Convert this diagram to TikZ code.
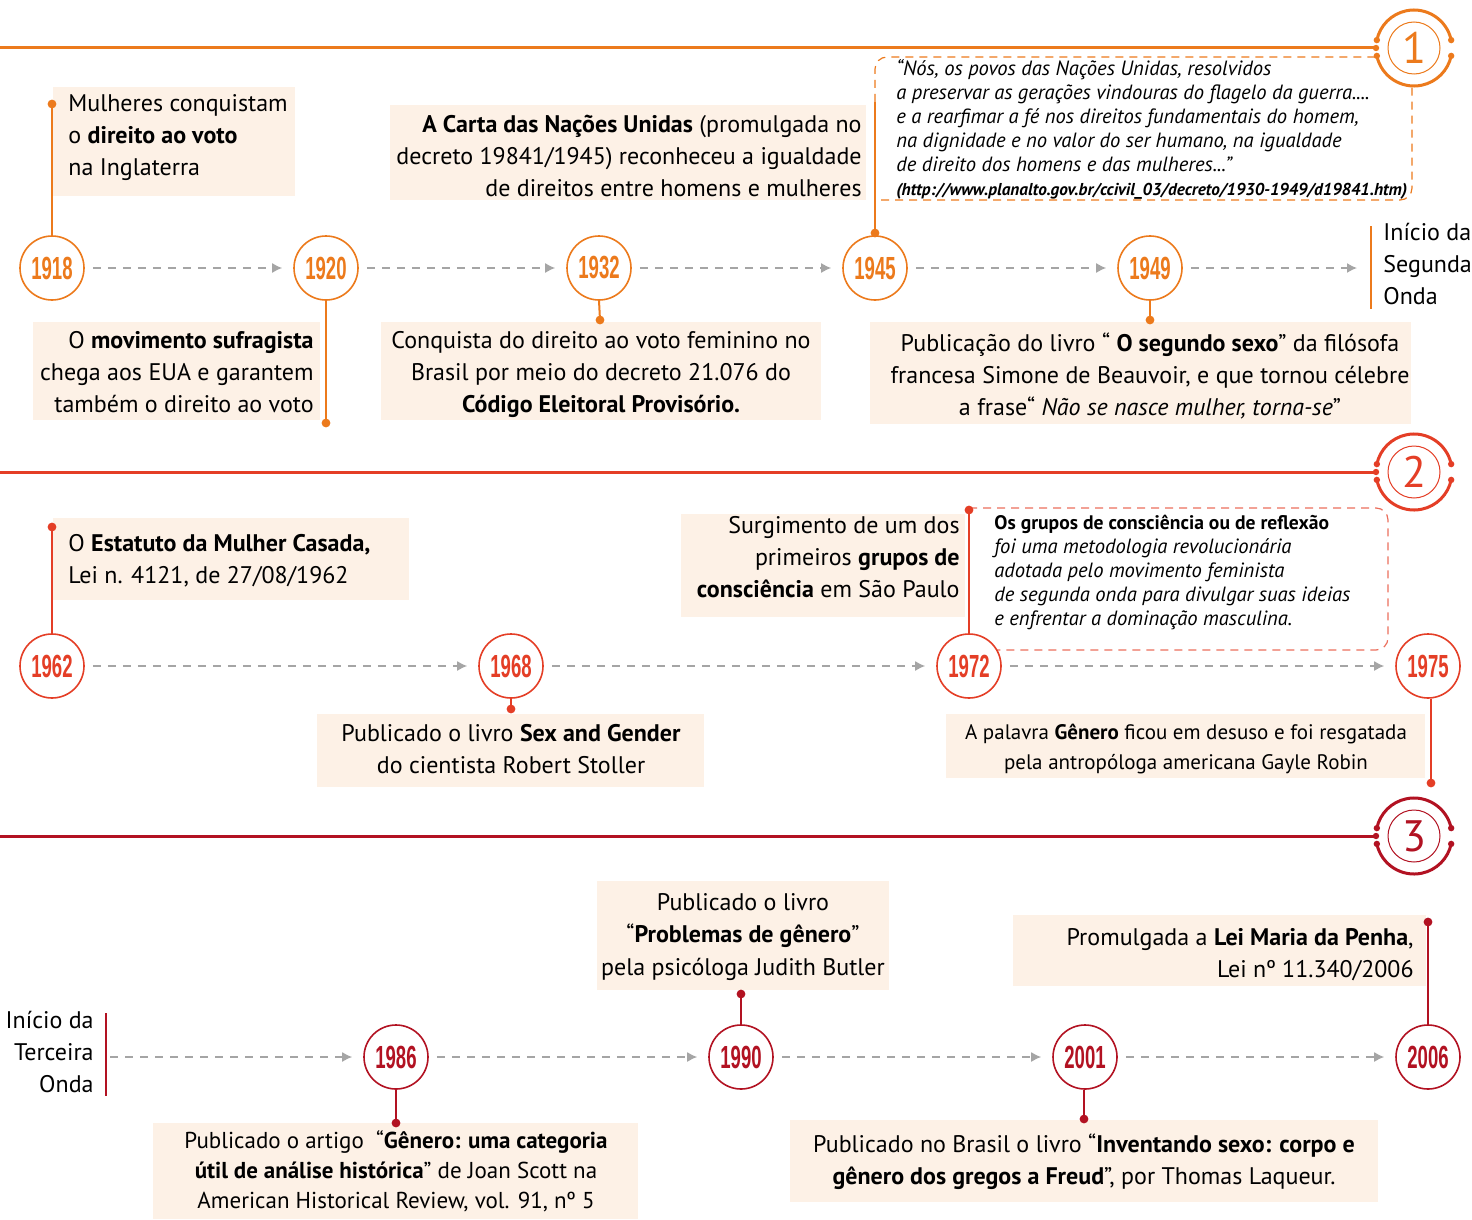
\documentclass[tikz,border=0pt]{standalone}
\usepackage{fontspec}
\setmainfont{PT Sans}
\newfontfamily\yearfont{Liberation Sans}[FakeStretch=0.58]
\usetikzlibrary{arrows.meta}
\definecolor{cA}{RGB}{236,122,28}
\definecolor{cB}{RGB}{228,62,38}
\definecolor{cC}{RGB}{178,18,34}
\definecolor{boxc}{RGB}{253,241,230}
\definecolor{agray}{RGB}{165,165,165}
\newcommand\tstr{\rule{0pt}{12pt}}
\newcommand\qstr{\rule{0pt}{10pt}}
\newcommand\wavemark[4]{%
  \coordinate (#1c) at #2;
  \fill[white] (#1c) circle (19.5pt);
  \draw[#3, line width=1.5pt] ([shift={(12:19pt)}]#1c) arc[start angle=12,end angle=168,radius=19pt];
  \draw[#3, line width=1.5pt] ([shift={(192:19pt)}]#1c) arc[start angle=192,end angle=348,radius=19pt];
  \foreach \a in {12,168,192,348} \fill[#3] ([shift={(\a:19pt)}]#1c) circle (1.6pt);
  \node[circle, draw=#3, line width=0.5pt, minimum size=26pt, inner sep=0pt, text=#3, font=\fontsize{22}{22}\selectfont] (#1) at (#1c) {#4};
  \coordinate (#1l) at ([xshift=-19pt]#1c);
  \coordinate (#1s) at (#1c -| 0,0);
  \draw[#3, line width=1.5pt] (#1s) -- (#1l);
  \fill[#3] (#1l) circle (1.6pt);
}
\begin{document}
\begin{tikzpicture}[x=0.5pt,y=-0.5pt,
  yr/.style={circle, draw=#1, fill=white, line width=0.8pt, minimum size=32pt, inner sep=0pt, text=#1, font=\yearfont\bfseries\fontsize{16}{16}\selectfont},
  bx/.style={fill=boxc, inner sep=0pt, anchor=north west, draw=none},
  tx/.style={inner sep=0pt, font=\fontsize{12}{16}\selectfont},
  qt/.style={inner sep=0pt, anchor=north west, align=left, font=\itshape\fontsize{10.3}{12}\selectfont},
  arr/.style={draw=agray, line width=0.75pt, dash pattern=on 4pt off 3.5pt, -{Latex[length=5pt,width=5pt]}, shorten <=4pt, shorten >=5.5pt},
  conn/.style={draw=#1, line width=1pt},
  qb/.style={draw=#1, line width=0.6pt, dash pattern=on 4pt off 3pt, rounded corners=6pt},
]
\useasboundingbox (0,0) rectangle (1472,1220);

% quote boxes
\draw[qb=cA] (875,102) -- (875,57) -- (1412,57) -- (1412,200) -- (875,200);
\draw[qb=cB!75] (969,508) -- (1388,508) -- (1388,650) -- (969,650);

% section marks
\wavemark{n1}{(1414,48)}{cA}{1}
\wavemark{n2}{(1414,472)}{cB}{2}
\wavemark{n3}{(1414,836)}{cC}{3}

% boxes
\node[bx, minimum width=121pt, minimum height=54.5pt] (b1918) at (53,87) {};
\node[bx, minimum width=143.5pt, minimum height=49pt] (b1920) at (33,322) {};
\node[bx, minimum width=238pt, minimum height=47.5pt] (bCarta) at (390,105) {};
\node[bx, minimum width=220pt, minimum height=49pt] (b1932) at (381,322) {};
\node[bx, minimum width=270.5pt, minimum height=51pt] (b1949) at (870,322) {};
\node[bx, minimum width=178pt, minimum height=41pt] (b1962) at (53,518) {};
\node[bx, minimum width=193.5pt, minimum height=36.5pt] (b1968) at (317,714) {};
\node[bx, minimum width=142pt, minimum height=51.5pt] (b1972) at (681,514) {};
\node[bx, minimum width=239.5pt, minimum height=32pt] (b1975) at (946,714) {};
\node[bx, minimum width=146pt, minimum height=54.5pt] (b1990) at (597,881) {};
\node[bx, minimum width=206.5pt, minimum height=35.5pt] (b2006) at (1013,915) {};
\node[bx, minimum width=242.5pt, minimum height=48pt] (b1986) at (153,1123) {};
\node[bx, minimum width=294pt, minimum height=41pt] (b2001) at (790,1120) {};

% year circles
\node[yr=cA] (y1918) at (52,268) {1918};
\node[yr=cA] (y1920) at (326,268) {1920};
\node[yr=cA] (y1932) at (599,268) {1932};
\node[yr=cA] (y1945) at (875,268) {1945};
\node[yr=cA] (y1949) at (1150,268) {1949};
\node[yr=cB] (y1962) at (52,666) {1962};
\node[yr=cB] (y1968) at (511,666) {1968};
\node[yr=cB] (y1972) at (969,666) {1972};
\node[yr=cB] (y1975) at (1428,666) {1975};
\node[yr=cC] (y1986) at (396,1057) {1986};
\node[yr=cC] (y1990) at (741,1057) {1990};
\node[yr=cC] (y2001) at (1085,1057) {2001};
\node[yr=cC] (y2006) at (1428,1057) {2006};

% connector dots
\coordinate (d1918) at (52,104);
\coordinate (d1920) at (326,423);
\coordinate (d1932) at (600,320);
\coordinate (d1945) at (875,233);
\coordinate (q1945) at (875,102);
\coordinate (d1949) at (1150,320);
\coordinate (d1962) at (52,527);
\coordinate (d1968) at (511,709);
\coordinate (d1972) at (969,510);
\coordinate (d1975) at (1431,783);
\coordinate (d1986) at (396,1123);
\coordinate (d1990) at (741,994);
\coordinate (d2001) at (1084,1119);
\coordinate (d2006) at (1428,922);

\draw[conn=cA] (d1918) -- (y1918.north);
\draw[conn=cA] (y1920.south) -- (d1920);
\draw[conn=cA] (y1932.south) -- (d1932);
\draw[conn=cA] (q1945) -- (d1945);
\draw[conn=cA] (y1949.south) -- (d1949);
\draw[conn=cB] (d1962) -- (y1962.north);
\draw[conn=cB] (y1968.south) -- (d1968);
\draw[conn=cB] (d1972) -- (y1972.north);
\draw[conn=cB] (y1975.south -| d1975) -- (d1975);
\draw[conn=cC] (y1986.south) -- (d1986);
\draw[conn=cC] (d1990) -- (y1990.north);
\draw[conn=cC] (y2001.south -| d2001) -- (d2001);
\draw[conn=cC] (d2006) -- (y2006.north);

\foreach \p in {d1918,d1920,d1932,d1945,d1949} \fill[cA] (\p) circle (2.2pt);
\foreach \p in {d1962,d1968,d1972,d1975} \fill[cB] (\p) circle (2.2pt);
\foreach \p in {d1986,d1990,d2001,d2006} \fill[cC] (\p) circle (2.2pt);

% wave start bars
\coordinate (segtop) at (1371,226);
\coordinate (segbot) at (1371,309);
\coordinate (seg) at (1371,268);
\draw[cA, line width=1.2pt] (segtop) -- (segbot);
\coordinate (tertop) at (106,1013);
\coordinate (terbot) at (106,1096);
\coordinate (ter) at (106,1057);
\draw[cC, line width=1.2pt] (tertop) -- (terbot);

% arrows
\draw[arr] (y1918) -- (y1920);
\draw[arr] (y1920) -- (y1932);
\draw[arr] (y1932) -- (y1945);
\draw[arr] (y1945) -- (y1949);
\draw[arr, shorten >=7pt] (y1949) -- (seg);
\draw[arr] (y1962) -- (y1968);
\draw[arr] (y1968) -- (y1972);
\draw[arr] (y1972) -- (y1975);
\draw[arr, shorten <=2pt] (ter) -- (y1986);
\draw[arr] (y1986) -- (y1990);
\draw[arr] (y1990) -- (y2001);
\draw[arr] (y2001) -- (y2006);

% texts section 1
\node[tx, align=left, anchor=north west] (t1918) at (68,87) {\tstr Mulheres conquistam\\o \textbf{direito ao voto}\\na Inglaterra};
\node[tx, align=right, anchor=north east] (t1920) at (314,324) {\tstr O \textbf{movimento sufragista}\\chega aos EUA e garantem\\também o direito ao voto};
\node[tx, align=right, anchor=north east] (tCarta) at (862,108) {\tstr\textbf{A Carta das Nações Unidas} (promulgada no\\decreto 19841/1945) reconheceu a igualdade\\de direitos entre homens e mulheres};
\node[tx, align=center, anchor=north] (t1932) at (601,324) {\tstr Conquista do direito ao voto feminino no\\Brasil por meio do decreto 21.076 do\\\textbf{Código Eleitoral Provisório.}};
\node[tx, align=center, anchor=north] (t1949) at (1150,327) {\tstr Publicação do livro “ \textbf{O segundo sexo}” da filósofa\\francesa Simone de Beauvoir, e que tornou célebre\\a frase“ \textit{Não se nasce mulher, torna-se}”};
\node[tx, align=left, anchor=north west] (tseg) at (1383,216) {\tstr Início da\\Segunda\\Onda};
\node[qt] (quote1) at (896,55) {\qstr“Nós, os povos das Nações Unidas, resolvidos\\a preservar as gerações vindouras do flagelo da guerra....\\e a rearfimar a fé nos direitos fundamentais do homem,\\na dignidade e no valor do ser humano, na igualdade\\de direito dos homens e das mulheres...”\\{\bfseries\fontsize{8.6}{12}\selectfont (http://www.planalto.gov.br/ccivil\_03/decreto/1930-1949/d19841.htm)}};

% texts section 2
\node[tx, align=left, anchor=north west] (t1962) at (68,527) {\tstr O \textbf{Estatuto da Mulher Casada,}\\Lei n. 4121, de 27/08/1962};
\node[tx, align=center, anchor=north] (t1968) at (511,717) {\tstr Publicado o livro \textbf{Sex and Gender}\\do cientista Robert Stoller};
\node[tx, align=right, anchor=north east] (t1972) at (960,509) {\tstr Surgimento de um dos\\primeiros \textbf{grupos de}\\\textbf{consciência} em São Paulo};
\node[qt] (quote2) at (994,509) {\qstr{\upshape\bfseries\fontsize{9.8}{12}\selectfont Os grupos de consciência ou de reflexão}\\foi uma metodologia revolucionária\\adotada pelo movimento feminista\\de segunda onda para divulgar suas ideias\\e enfrentar a dominação masculina.};
\node[tx, align=center, anchor=north, font=\fontsize{10.5}{15}\selectfont] (t1975) at (1186,715) {\tstr A palavra \textbf{Gênero} ficou em desuso e foi resgatada\\pela antropóloga americana Gayle Robin};

% texts section 3
\node[tx, align=right, anchor=north east] (tter) at (94,1004) {\tstr Início da\\Terceira\\Onda};
\node[tx, align=center, anchor=north, font=\fontsize{12}{16.25}\selectfont] (t1990) at (743,886) {\tstr Publicado o livro\\“\textbf{Problemas de gênero}”\\pela psicóloga Judith Butler};
\node[tx, align=right, anchor=north east] (t2006) at (1414,921) {\tstr Promulgada a \textbf{Lei Maria da Penha},\\Lei nº 11.340/2006};
\node[tx, align=center, anchor=north, font=\fontsize{11.5}{15}\selectfont] (t1986) at (396,1124) {\tstr Publicado o artigo~ “\textbf{Gênero: uma categoria}\\\textbf{útil de análise histórica}” de Joan Scott na\\American Historical Review, vol. 91, nº 5};
\node[tx, align=center, anchor=north] (t2001) at (1084,1128) {\tstr Publicado no Brasil o livro “\textbf{Inventando sexo: corpo e}\\\textbf{gênero dos gregos a Freud}”, por Thomas Laqueur.};
\end{tikzpicture}
\end{document}
